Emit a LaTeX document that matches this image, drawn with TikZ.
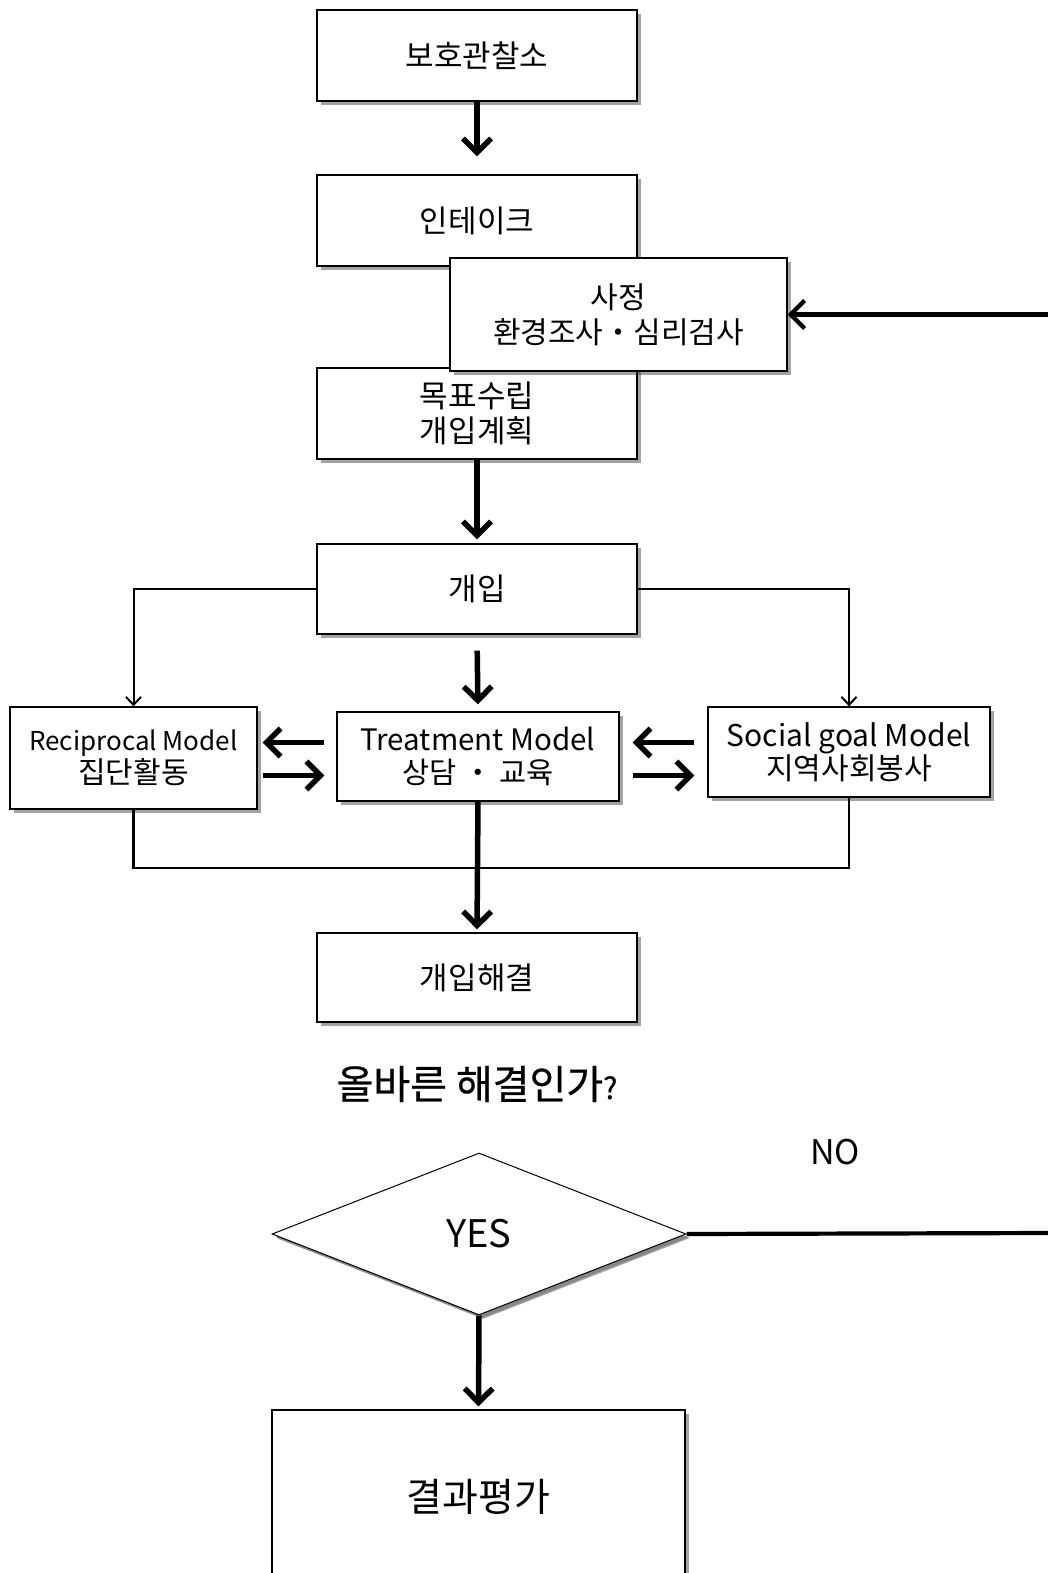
\documentclass[tikz,border=0pt]{standalone}
\usepackage{fontspec}
\setmainfont{Noto Sans CJK KR}
\newfontfamily\heavyfont[FakeBold=0.6]{Noto Sans CJK KR}
\usetikzlibrary{shapes.geometric,arrows.meta,shadows}

\begin{document}
\begin{tikzpicture}[x=1pt,y=-1pt,
	box/.style={draw,line width=1.3pt,fill=white,align=center,inner sep=2pt,font=\fontsize{31}{35}\selectfont,
		drop shadow={shadow xshift=4pt,shadow yshift=-4pt,opacity=0.45,fill=black!80}},
	bigarrow/.style={line width=5.5pt,-{Straight Barb[length=14pt,width=28pt]}},
	thinarrow/.style={line width=2pt,-{Straight Barb[length=8pt,width=15pt]}},
	thinline/.style={line width=2.2pt},
	thickline/.style={line width=4.2pt}]
	\useasboundingbox (0,0) rectangle (1048,1573);
	\clip (0,0) rectangle (1048,1573);
	\fill[white] (0,0) rectangle (1048,1573);

	\coordinate (p_probation) at (477,55.5);
	\coordinate (p_intake) at (477,220.5);
	\coordinate (p_assess) at (618.5,314.5);
	\coordinate (p_plan) at (477,413.5);
	\coordinate (p_interv) at (477,589);
	\coordinate (p_recip) at (133.5,758);
	\coordinate (p_treat) at (478,756.5);
	\coordinate (p_social) at (849,752);
	\coordinate (p_merge) at (477,868);
	\coordinate (p_solved) at (477,977.5);
	\coordinate (p_question) at (477,1084);
	\coordinate (p_no) at (835,1152);
	\coordinate (p_decision) at (479,1234);
	\coordinate (p_eval) at (478.5,1497);
	\coordinate (p_noin) at (1048,314.5);
	\coordinate (p_noout) at (1048,1233);

	\node[box,minimum width=320pt,minimum height=91pt] (probation) at (p_probation) {보호관찰소};
	\node[box,minimum width=320pt,minimum height=91pt] (intake) at (p_intake) {인테이크};
	\node[box,minimum width=320pt,minimum height=91pt] (plan) at (p_plan) {목표수립\\개입계획};
	\node[box,minimum width=337pt,minimum height=113pt,font=\fontsize{30}{35}\selectfont] (assess) at (p_assess) {사정\\환경조사・심리검사};
	\node[box,minimum width=320pt,minimum height=90pt] (interv) at (p_interv) {개입};
	\node[box,minimum width=247pt,minimum height=102pt,font=\fontsize{26}{33}\selectfont] (recip) at (p_recip) {Reciprocal Model\\{\fontsize{30}{33}\selectfont 집단활동}};
	\node[box,minimum width=282pt,minimum height=89pt,font=\fontsize{29.5}{33}\selectfont] (treat) at (p_treat) {Treatment Model\\상담 ・ 교육};
	\node[box,minimum width=282pt,minimum height=90pt,font=\fontsize{30}{33}\selectfont] (social) at (p_social) {Social goal Model\\지역사회봉사};
	\node[box,minimum width=320pt,minimum height=89pt] (solved) at (p_solved) {개입해결};
	\node[font=\fontsize{40}{44}\heavyfont] (question) at (p_question) {올바른 해결인가{\fontsize{30}{30}\selectfont ?}};
	\node[font=\fontsize{34}{38}\selectfont] (nolabel) at (p_no) {NO};
	\node[box,diamond,aspect=2.55,inner sep=0pt,line width=1pt,minimum width=414pt,minimum height=162pt,font=\fontsize{38}{42}\selectfont,
		drop shadow={shadow xshift=3pt,shadow yshift=-3pt,opacity=0.25,fill=black!80}] (decision) at (p_decision) {YES};
	\node[box,minimum width=413pt,minimum height=174pt,font=\fontsize{39}{42}\selectfont] (eval) at (p_eval) {결과평가};

	\draw[bigarrow,shorten >=18pt] (probation.south) -- (intake.north);
	\draw[bigarrow,line width=4.2pt] (p_noin) -- (assess.east);
	\draw[bigarrow,shorten >=4pt] (plan.south) -- (interv.north);
	\draw[bigarrow,shorten <=16pt,shorten >=7pt] (interv.south) -- (treat.north);
	\draw[thinarrow] (interv.west) -| (recip.north);
	\draw[thinarrow] (interv.east) -| (social.north);

	\draw[bigarrow,shorten <=12pt,shorten >=5pt] ([yshift=14pt]treat.west) -- ([yshift=14pt]treat.west -| recip.east);
	\draw[bigarrow,shorten <=5pt,shorten >=12pt] ([yshift=-19pt]treat.west -| recip.east) -- ([yshift=-19pt]treat.west);
	\draw[bigarrow,shorten <=13pt,shorten >=13pt] ([yshift=14pt]treat.east -| social.west) -- ([yshift=14pt]treat.east);
	\draw[bigarrow,shorten <=13pt,shorten >=13pt] ([yshift=-19pt]treat.east) -- ([yshift=-19pt]treat.east -| social.west);

	\draw[thinline] (recip.south) |- (p_merge) -| (social.south);
	\draw[bigarrow,shorten >=3pt] (treat.south) -- (solved.north);

	\draw[thickline] (decision.east) -- (p_noout);
	\draw[bigarrow,shorten >=3pt] (decision.south) -- (eval.north);
\end{tikzpicture}
\end{document}
